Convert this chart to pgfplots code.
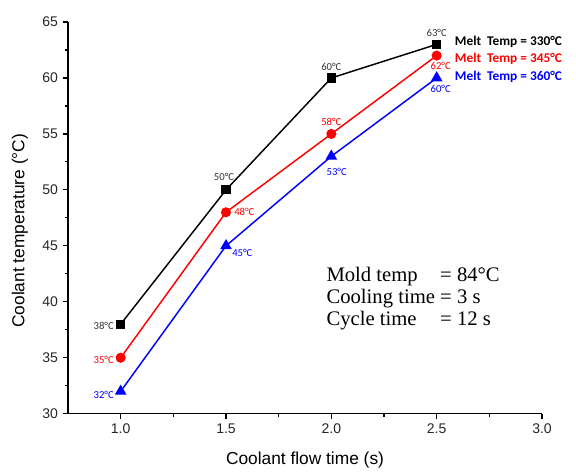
\documentclass[border=0pt]{standalone}
\usepackage{fontspec}
\setmainfont{Liberation Sans}
\newfontfamily\calibri{Carlito}
\newfontfamily\timesfont{Liberation Serif}
\usepackage{pgfplots}
\pgfplotsset{compat=1.18}
\begin{document}
\begin{tikzpicture}
\begin{axis}[
  scale only axis,
  width=355.5pt, height=293.8pt,
  xmin=0.75, xmax=3.0, ymin=30, ymax=65,
  axis x line=bottom, axis y line=left,
  axis line style={-, line width=1pt},
  xtick={1.0,1.5,2.0,2.5,3.0},
  ytick={30,35,40,45,50,55,60,65},
  minor x tick num=1, minor y tick num=1,
  tick align=outside,
  major tick length=4pt, minor tick length=2.5pt,
  tick style={line width=0.9pt, black},
  xticklabel style={/pgf/number format/.cd, fixed, fixed zerofill, precision=1},
  /pgf/number format/assume math mode=true,
  ticklabel style={font=\fontsize{10.5}{12}\selectfont, text=black!85},
  xlabel={Coolant flow time (s)},
  ylabel={Coolant temperature (°C)},
  label style={font=\fontsize{13}{15}\selectfont},
  xlabel style={at={(rel axis cs:0.5,0)}, anchor=center, yshift=-34.5pt},
  ylabel style={at={(axis description cs:-0.1013,0.467)}, anchor=center},
  clip=false,
]
\addplot[black, line width=1.1pt, mark=square*, mark size=2.9pt, mark options={solid}]
  coordinates {(1.0,38) (1.5,50) (2.0,60) (2.5,63)};
\addplot[red, line width=1.1pt, mark=*, mark size=3.2pt]
  coordinates {(1.0,35) (1.5,48) (2.0,55) (2.5,62)};
\addplot[blue, line width=1.1pt, mark=triangle*, mark size=4pt]
  coordinates {(1.0,32) (1.5,45) (2.0,53) (2.5,60)};

% data labels
\begin{scope}[every node/.style={font=\calibri\fontsize{8}{9}\selectfont, inner sep=0pt}]
\node[black!80, anchor=east] at ([xshift=-5pt,yshift=-1.5pt]axis cs:1.0,38) {38°C};
\node[red, anchor=east] at ([xshift=-5pt,yshift=-1.5pt]axis cs:1.0,35) {35°C};
\node[blue, anchor=east] at ([xshift=-5pt,yshift=-3pt]axis cs:1.0,32) {32°C};
\node[black!80] at ([xshift=-1.5pt,yshift=9.5pt]axis cs:1.5,50) {50°C};
\node[red, anchor=west] at ([xshift=6pt]axis cs:1.5,48) {48°C};
\node[blue, anchor=west] at ([xshift=4.5pt,yshift=-5pt]axis cs:1.5,45) {45°C};
\node[black!80] at ([yshift=8pt]axis cs:2.0,60) {60°C};
\node[red] at ([yshift=9pt]axis cs:2.0,55) {58°C};
\node[blue] at ([xshift=4pt,yshift=-12pt]axis cs:2.0,53) {53°C};
\node[black!80] at ([yshift=8.5pt]axis cs:2.5,63) {63°C};
\node[red] at ([xshift=3pt,yshift=-7.5pt]axis cs:2.5,62) {62°C};
\node[blue] at ([xshift=3pt,yshift=-8.5pt]axis cs:2.5,60) {60°C};
\end{scope}

% legend texts
\begin{scope}[every node/.style={font=\calibri\bfseries\fontsize{10}{12}\selectfont, inner sep=0pt, anchor=west}]
\node[black] at ([xshift=13.5pt]axis cs:2.5,63.2) {Melt\ \ Temp = 330°C};
\node[red] at ([xshift=13.5pt]axis cs:2.5,61.7) {Melt\ \ Temp = 345°C};
\node[blue] at ([xshift=13.5pt]axis cs:2.5,60.1) {Melt\ \ Temp = 360°C};
\end{scope}

% process conditions
\node[anchor=base west, inner sep=0pt, font=\timesfont\fontsize{15.5}{16.3}\selectfont]
  at (axis cs:1.976,41.8) {\begin{tabular}[t]{@{}l@{\ }l@{}}
  Mold temp & = 84°C\\
  Cooling time & = 3 s\\
  Cycle time & = 12 s
  \end{tabular}};
\end{axis}
\path[use as bounding box] ([xshift=-51pt,yshift=-40.5pt]current axis.south west) rectangle ([xshift=25.5pt,yshift=16.5pt]current axis.north east);
\end{tikzpicture}
\end{document}
